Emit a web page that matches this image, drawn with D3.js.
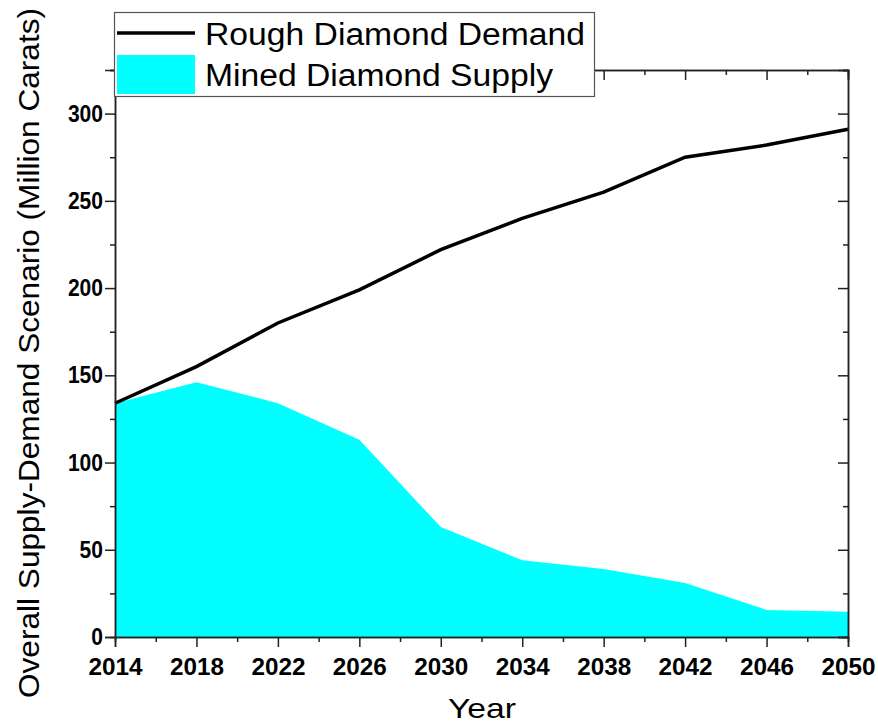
<!DOCTYPE html>
<html>
<head>
<meta charset="utf-8">
<script src="https://cdn.jsdelivr.net/npm/d3@7"></script>
<style>
  body { margin: 0; background: #fff; }
  text { font-family: "Liberation Sans", Arial, sans-serif; }
</style>
</head>
<body>
<svg id="chart" width="878" height="726"></svg>
<script>
const YEARS = [2014, 2018, 2022, 2026, 2030, 2034, 2038, 2042, 2046, 2050];
const DEMAND = [134, 155, 180, 199, 222, 240, 255, 275, 282, 291];
const SUPPLY = [134, 146, 134, 113, 63, 44, 39, 31, 15.5, 14.5];
const X_TICKS = [2014, 2018, 2022, 2026, 2030, 2034, 2038, 2042, 2046, 2050];
const Y_TICKS = [0, 50, 100, 150, 200, 250, 300];

const margin = { top: 70, right: 30, bottom: 89, left: 115 };
const width = 878, height = 726;

const svg = d3.select("#chart");

const x = d3.scaleLinear().domain([2014, 2050]).range([margin.left, width - margin.right]);
const y = d3.scaleLinear().domain([0, 325]).range([height - margin.bottom, margin.top]);

const rows = YEARS.map((yr, i) => ({ year: yr, demand: DEMAND[i], supply: SUPPLY[i] }));

// supply area
svg.append("path")
  .datum(rows)
  .attr("fill", "#00ffff")
  .attr("d", d3.area().x((d) => x(d.year)).y0(y(0)).y1((d) => y(d.supply)));

// demand line
svg.append("path")
  .datum(rows)
  .attr("fill", "none")
  .attr("stroke", "#000")
  .attr("stroke-width", 3.5)
  .attr("d", d3.line().x((d) => x(d.year)).y((d) => y(d.demand)));

// minor tick values
const xMinor = d3.range(2016, 2050, 4);
const yMinor = d3.range(25, 326, 50);

function styleAxis(g) {
  g.select(".domain").attr("stroke", "#222").attr("stroke-width", 1.5);
  g.selectAll(".tick line").attr("stroke", "#222").attr("stroke-width", 1.5);
}

// bottom
const bottom = svg.append("g").attr("transform", `translate(0,${y(0)})`);
bottom.call(d3.axisBottom(x).tickValues(X_TICKS).tickFormat(d3.format("d")).tickSize(10).tickPadding(11))
  .call(styleAxis);
bottom.selectAll(".tick text")
  .attr("font-size", 24).attr("font-weight", "bold").attr("fill", "#000")
  .attr("textLength", 54).attr("lengthAdjust", "spacingAndGlyphs");
svg.append("g").attr("transform", `translate(0,${y(0)})`)
  .call(d3.axisBottom(x).tickValues(xMinor).tickFormat("").tickSize(5)).call(styleAxis);

// left
const left = svg.append("g").attr("transform", `translate(${x(2014)},0)`);
left.call(d3.axisLeft(y).tickValues(Y_TICKS).tickSize(10).tickPadding(2)).call(styleAxis);
left.selectAll(".tick text")
  .attr("font-size", 24).attr("font-weight", "bold").attr("fill", "#000")
  .attr("textLength", (d) => String(d).length * 11.7).attr("lengthAdjust", "spacingAndGlyphs");
svg.append("g").attr("transform", `translate(${x(2014)},0)`)
  .call(d3.axisLeft(y).tickValues(yMinor).tickFormat("").tickSize(5)).call(styleAxis);

// top (inward)
svg.append("g").attr("transform", `translate(0,${y(325)})`)
  .call(d3.axisBottom(x).tickValues(X_TICKS).tickFormat("").tickSize(10)).call(styleAxis);
svg.append("g").attr("transform", `translate(0,${y(325)})`)
  .call(d3.axisBottom(x).tickValues(xMinor).tickFormat("").tickSize(5)).call(styleAxis);

// right (inward)
svg.append("g").attr("transform", `translate(${x(2050)},0)`)
  .call(d3.axisLeft(y).tickValues(Y_TICKS).tickFormat("").tickSize(10)).call(styleAxis);
svg.append("g").attr("transform", `translate(${x(2050)},0)`)
  .call(d3.axisLeft(y).tickValues(yMinor).tickFormat("").tickSize(5)).call(styleAxis);

// axis titles
svg.append("text")
  .attr("x", 482)
  .attr("y", 718)
  .attr("text-anchor", "middle")
  .attr("font-size", 28)
  .attr("textLength", 68).attr("lengthAdjust", "spacingAndGlyphs")
  .text("Year");

svg.append("text")
  .attr("transform", `translate(39,353) rotate(-90)`)
  .attr("text-anchor", "middle")
  .attr("font-size", 30)
  .attr("textLength", 690).attr("lengthAdjust", "spacingAndGlyphs")
  .text("Overall Supply-Demand Scenario (Million Carats)");

// legend
const legend = svg.append("g");
legend.append("rect")
  .attr("x", 114.5).attr("y", 12.5).attr("width", 480).attr("height", 84)
  .attr("fill", "#fff").attr("stroke", "#555").attr("stroke-width", 1.2);
legend.append("line")
  .attr("x1", 117).attr("x2", 195).attr("y1", 33).attr("y2", 33)
  .attr("stroke", "#000").attr("stroke-width", 3.5);
legend.append("rect")
  .attr("x", 117).attr("y", 55).attr("width", 78).attr("height", 39)
  .attr("fill", "#00ffff");
legend.append("text").attr("x", 205).attr("y", 45).attr("font-size", 31)
  .attr("textLength", 380).attr("lengthAdjust", "spacingAndGlyphs").text("Rough Diamond Demand");
legend.append("text").attr("x", 205).attr("y", 86).attr("font-size", 31)
  .attr("textLength", 348).attr("lengthAdjust", "spacingAndGlyphs").text("Mined Diamond Supply");
</script>
</body>
</html>
